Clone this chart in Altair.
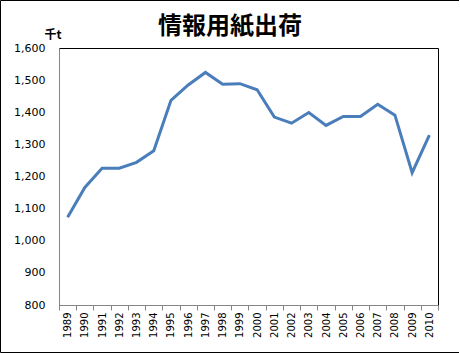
import altair as alt
import pandas as pd

years = [str(y) for y in range(1989, 2011)]
values = [1073, 1166, 1226, 1226, 1244, 1280, 1437, 1485, 1524, 1487, 1489,
          1470, 1385, 1366, 1399, 1359, 1387, 1387, 1425, 1391, 1212, 1329]
title_text = "情報用紙出荷"
unit_text = "千t"

df = pd.DataFrame({"year": years, "value": values})

W, H = 379, 257
PL, PT, PR, PB = 59, 48, 21, 48

base = alt.Chart(df)

line = base.mark_line(color="#4A7EBB", strokeWidth=3, strokeJoin="miter").encode(
    x=alt.X("year:O",
            scale=alt.Scale(type="band", paddingInner=0, paddingOuter=0),
            axis=alt.Axis(title=None, labelAngle=270, labelAlign="right",
                          labelBaseline="middle", labelFont="DejaVu Sans",
                          labelFontSize=10, labelColor="#000000",
                          tickBand="extent", tickSize=5, tickColor="#868686",
                          domainColor="#868686", labelPadding=2, grid=False)),
    y=alt.Y("value:Q",
            scale=alt.Scale(domain=[800, 1600], nice=False, zero=False),
            axis=alt.Axis(title=None, values=list(range(800, 1601, 100)),
                          format=",d", labelFont="DejaVu Sans", labelFontSize=11,
                          labelColor="#000000", tickSize=0, labelPadding=14,
                          domainColor="#868686", grid=False)),
)

title = alt.Chart(pd.DataFrame({"t": [title_text]})).mark_text(
    font="Noto Sans CJK JP", fontSize=24, fontWeight="bold", color="#000000",
    align="center", baseline="alphabetic"
).encode(text="t:N", x=alt.value(230 - PL), y=alt.value(34 - PT))

unit = alt.Chart(pd.DataFrame({"t": [unit_text]})).mark_text(
    font="Noto Sans CJK JP", fontSize=12, fontWeight="bold", color="#000000",
    align="center", baseline="alphabetic"
).encode(text="t:N", x=alt.value(53 - PL), y=alt.value(39 - PT))

border = alt.Chart(pd.DataFrame({"a": [0]})).mark_rect(
    fill=None, stroke="#000000", strokeWidth=1
).encode(x=alt.value(0.5 - PL), x2=alt.value(459.5 - PL),
         y=alt.value(0.5 - PT), y2=alt.value(352.5 - PT))

chart = alt.layer(line, title, unit, border).properties(
    width=W, height=H,
    autosize=alt.AutoSizeParams(type="none"),
    padding={"left": PL, "top": PT, "right": PR, "bottom": PB},
    background="#FFFFFF",
).configure_view(stroke="#000000", strokeWidth=1)

chart.save("out.html", embed_options={"renderer": "svg", "actions": False})
